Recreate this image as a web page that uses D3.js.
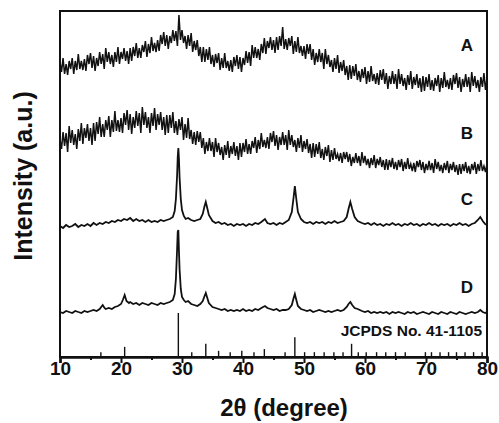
<!DOCTYPE html>
<html>
<head>
<meta charset="utf-8">
<script src="https://cdn.jsdelivr.net/npm/d3@7"></script>
<style>
  html, body { margin: 0; padding: 0; background: #fff; }
  svg { display: block; }
  text { font-family: "Liberation Sans", Arial, sans-serif; font-weight: bold; fill: #111; }
</style>
</head>
<body>
<svg id="chart" width="499" height="423"></svg>
<script>
// ---------------- DATA ----------------
const xTicks = [10, 20, 30, 40, 50, 60, 70, 80];
const xMinorTicks = [15, 25, 35, 45, 55, 65, 75];
const seriesLabels = ["A", "B", "C", "D"];
const refLabel = "JCPDS No. 41-1105";

// A and B sampled every 0.25 degree from 10 to 80
const angleAB = d3.range(10, 80.001, 0.25);
const seriesA = [
  295,285,299,283, 293,282,296,288, 299,283,296,287, 303,288,296,287, 298,286,302,293,
  304,289,301,286, 299,291,305,293, 303,288,309,295, 305,293,302,290, 305,295,310,293,
  305,298,309,296, 306,293,309,296, 310,301,314,299, 309,299,312,305, 316,300,313,304,
  320,306,314,305, 317,306,322,313, 325,311,322,308, 321,314,327,316, 326,311,342,317,
  327,314,321,308, 322,311,324,305, 316,307,317,301, 310,295,310,295, 308,297,310,293,
  302,290,303,294, 304,287,299,289, 304,289,296,286, 297,285,300,291, 302,288,300,285,
  299,292,306,294, 305,291,312,299, 310,299,308,297, 313,304,319,303, 316,309,320,307,
  317,304,320,307, 321,311,330,308, 318,307,319,311, 321,303,316,305, 320,304,311,301,
  311,298,313,303, 313,297,308,292, 304,295,308,295, 304,288,308,293, 302,290,297,285,
  299,288,302,284, 295,286,297,282, 291,277,292,278, 291,281,293,277, 286,275,288,279,
  290,273,286,275, 291,276,283,273, 284,272,287,277, 288,273,284,268, 281,273,286,273,
  283,268,288,273, 283,271,279,267, 282,272,286,268, 280,272,283,269, 279,265,281,266,
  280,270,283,267, 277,266,279,271, 282,265,279,269, 285,270,277,268, 279,267,282,273,
  284,269,280,265, 278,270,283,270, 280,265,285,271, 281,269,277,265, 280,270,284,267,
  279
];
const seriesB = [
  218,208,225,211, 224,205,231,214, 227,212,223,208, 228,216,234,213, 229,219,233,216,
  229,212,234,216, 235,223,240,220, 233,220,237,227, 241,220,237,225, 246,226,237,225,
  239,224,244,232, 247,227,243,223, 240,229,246,231, 244,224,250,232, 245,229,240,224,
  244,231,249,227, 243,232,245,227, 240,222,242,224, 242,229,245,224, 236,222,238,227,
  240,217,233,219, 239,218,227,213, 225,212,226,215, 225,209,219,203, 215,206,219,206,
  215,200,219,205, 214,202,210,197, 212,202,216,199, 211,203,215,201, 211,197,214,200,
  214,205,218,203, 213,203,216,209, 220,204,217,208, 224,210,217,209, 220,208,224,215,
  226,211,222,207, 220,212,225,212, 222,207,227,212, 222,210,217,205, 219,209,222,205,
  216,208,218,204, 213,199,214,200, 213,203,215,199, 208,197,210,201, 212,195,207,197,
  209,198,203,196, 204,194,205,198, 205,195,203,191, 200,194,204,194, 201,191,205,194,
  201,192,198,189, 199,192,202,189, 198,192,200,190, 197,187,198,187, 197,190,199,188,
  195,187,197,190, 198,186,195,188, 199,188,193,186, 194,185,196,190, 197,187,195,184,
  193,187,196,187, 194,184,198,188, 195,186,192,184, 194,187,196,184, 193,187,195,185,
  192,182,193,183, 193,186,195,184, 191,183,193,187, 195,183,193,186, 197,186,191,185,
  193
];
// C and D: [2theta, intensity]
const seriesC = [
  [10,131],[10.5,129],[11,132],[11.5,130],[12,131],[12.5,133],[13,130],[13.5,132],[14,131],[14.5,133],
  [15,131],[15.5,134],[16,132],[16.5,134],[17,133],[17.5,135],[18,134],[18.5,136],[19,135],[19.5,137],
  [20,136],[20.5,138],[21,137],[21.5,139],[22,136],[22.5,138],[23,136],[23.5,137],[24,135],[24.5,137],
  [25,135],[25.5,136],[26,135],[26.5,137],[27,136],[27.5,137],[28,138],[28.5,140],[28.8,146],[29.0,158],
  [29.2,182],[29.3,200],[29.4,209],[29.5,198],[29.6,180],[29.8,158],[30.0,147],[30.3,141],[30.6,138],[31,139],
  [31.5,137],[32,136],[32.5,137],[33,138],[33.4,143],[33.7,151],[33.9,155],[34.1,150],[34.4,142],[35,136],
  [35.5,134],[36,135],[36.5,133],[37,134],[37.5,132],[38,133],[38.5,131],[39,133],[39.5,132],[40,133],
  [40.5,131],[41,133],[41.5,132],[42,134],[42.5,133],[43,135],[43.6,138],[44,134],[44.5,133],[45,134],
  [45.5,132],[46,134],[46.5,133],[47,135],[47.5,137],[48,145],[48.3,160],[48.5,171],[48.7,160],[49,145],
  [49.5,138],[50,135],[50.5,134],[51,135],[51.5,133],[52,135],[52.5,134],[53,135],[53.5,133],[54,135],
  [54.5,134],[55,136],[55.5,134],[56,135],[56.5,136],[57,140],[57.3,148],[57.6,155],[57.9,148],[58.3,140],
  [58.8,136],[59.5,134],[60,133],[60.5,134],[61,132],[61.5,134],[62,132],[62.5,133],[63,131],[63.5,133],
  [64,132],[64.5,134],[65,132],[65.5,133],[66,131],[66.5,133],[67,132],[67.5,134],[68,132],[68.5,133],
  [69,131],[69.5,133],[70,132],[70.5,134],[71,132],[71.5,133],[72,131],[72.5,133],[73,132],[73.5,133],
  [74,131],[74.5,133],[75,132],[75.5,134],[76,132],[76.5,133],[77,131],[77.5,133],[78,134],[78.5,137],
  [78.9,140],[79.3,136],[79.7,133],[80,132]
];
const seriesD = [
  [10,45],[10.5,44],[11,46],[11.5,45],[12,44],[12.5,46],[13,45],[13.5,44],[14,46],[14.5,45],
  [15,46],[15.5,47],[16,46],[16.5,48],[17,52],[17.3,49],[17.5,48],[18,49],[18.5,48],[19,50],
  [19.5,51],[20,53],[20.3,57],[20.6,62],[20.9,56],[21.3,54],[21.5,55],[22,53],[22.5,54],[23,52],
  [23.5,54],[24,53],[24.5,52],[25,54],[25.5,53],[26,52],[26.5,54],[27,53],[27.5,54],[28,55],
  [28.5,57],[28.8,63],[29.0,78],[29.2,108],[29.3,125],[29.4,127],[29.5,106],[29.6,88],[29.8,68],[30.0,60],
  [30.3,57],[30.6,55],[31,56],[31.5,53],[32,52],[32.5,51],[33,53],[33.4,56],[33.7,61],[33.9,64],
  [34.1,60],[34.4,54],[35,50],[35.5,49],[36,48],[36.5,47],[37,48],[37.5,46],[38,47],[38.5,46],
  [39,47],[39.5,46],[40,48],[40.5,46],[41,47],[41.5,46],[42,48],[42.5,47],[43,49],[43.6,51],
  [44,49],[44.5,48],[45,47],[45.5,48],[46,46],[46.5,47],[47,47],[47.5,48],[48,52],[48.3,59],
  [48.5,63],[48.7,58],[49,51],[49.5,48],[50,47],[50.5,46],[51,47],[51.5,45],[52,46],[52.5,47],
  [53,46],[53.5,45],[54,46],[54.5,45],[55,46],[55.5,47],[56,46],[56.5,47],[57,50],[57.3,53],
  [57.6,55],[57.9,52],[58.3,49],[58.8,48],[59.5,46],[60,45],[60.5,46],[61,44],[61.5,45],[62,44],
  [62.5,45],[63,44],[63.5,45],[64,43],[64.5,45],[65,44],[65.5,45],[66,44],[66.5,43],[67,45],
  [67.5,44],[68,45],[68.5,43],[69,44],[69.5,45],[70,44],[70.5,43],[71,45],[71.5,44],[72,43],
  [72.5,45],[73,44],[73.5,43],[74,45],[74.5,44],[75,43],[75.5,45],[76,44],[76.5,43],[77,44],
  [77.5,45],[78,44],[78.5,45],[78.9,47],[79.3,45],[79.7,44],[80,45]
];
// JCPDS 41-1105 reference sticks: [2theta, relative intensity %]
const refSticks = [
  [16.7,11],[20.6,23],[29.4,100],[31.6,11],[33.9,30],[36.0,14],[37.9,11],[39.8,14],[41.8,11],
  [43.5,18],[46.9,11],[48.5,45],[50.1,11],[51.7,11],[53.3,11],[54.9,11],[56.4,11],[57.8,30],
  [58.9,11],[60.2,11],[61.9,11],[63.4,11],[65.0,11],[66.6,11],[69.9,11],[70.9,11],[72.3,11],
  [73.7,11],[75.0,11],[76.4,11],[77.8,11],[79.2,11]
];

// ---------------- LAYOUT ----------------
const L = 60, R = 487, T = 11, B = 357;
const svg = d3.select("#chart");
const x = d3.scaleLinear().domain([10, 80]).range([L, R]);
const y = d3.scaleLinear().domain([0, 346]).range([B, T]);
const yStick = d3.scaleLinear().domain([0, 100]).range([B, 313]);

svg.append("clipPath").attr("id", "plotclip")
  .append("rect").attr("x", L).attr("y", T).attr("width", R - L).attr("height", B - T);

const plot = svg.append("g").attr("clip-path", "url(#plotclip)");

const lineAB = d3.line().x((d, i) => x(angleAB[i])).y(d => y(d));
const lineCD = d3.line().x(d => x(d[0])).y(d => y(d[1]));

plot.append("path").datum(seriesA).attr("d", lineAB)
  .attr("fill", "none").attr("stroke", "#111").attr("stroke-width", 1.5);
plot.append("path").datum(seriesB).attr("d", lineAB)
  .attr("fill", "none").attr("stroke", "#111").attr("stroke-width", 1.5);
plot.append("path").datum(seriesC).attr("d", lineCD)
  .attr("fill", "none").attr("stroke", "#111").attr("stroke-width", 1.8);
plot.append("path").datum(seriesD).attr("d", lineCD)
  .attr("fill", "none").attr("stroke", "#111").attr("stroke-width", 1.8);

plot.selectAll("line.stick").data(refSticks).enter().append("line")
  .attr("class", "stick")
  .attr("x1", d => x(d[0])).attr("x2", d => x(d[0]))
  .attr("y1", yStick(0)).attr("y2", d => yStick(d[1]))
  .attr("stroke", "#111").attr("stroke-width", 1.4);

// frame
svg.append("rect").attr("x", L).attr("y", T).attr("width", R - L).attr("height", B - T)
  .attr("fill", "none").attr("stroke", "#111").attr("stroke-width", 2);

// x axis
const gx = svg.append("g").attr("transform", `translate(0,${B})`)
  .call(d3.axisBottom(x).tickValues(xTicks).tickSize(6).tickFormat(d3.format("d")));
gx.select(".domain").attr("stroke", "#111").attr("stroke-width", 2.5);
gx.selectAll(".tick line").attr("stroke", "#111").attr("stroke-width", 2);
gx.selectAll(".tick text").attr("y", 5).attr("dy", "0.71em")
  .style("font-family", '"Liberation Sans", Arial, sans-serif')
  .style("font-weight", "bold").style("font-size", "19px").attr("fill", "#111");

const gxm = svg.append("g").attr("transform", `translate(0,${B})`)
  .call(d3.axisBottom(x).tickValues(xMinorTicks).tickSize(3).tickFormat(""));
gxm.select(".domain").remove();
gxm.selectAll(".tick line").attr("stroke", "#111").attr("stroke-width", 2);

// series labels
const labelY = [51, 139, 205, 293];
svg.selectAll("text.slabel").data(seriesLabels).enter().append("text")
  .attr("class", "slabel")
  .attr("x", 467).attr("y", (d, i) => labelY[i])
  .attr("text-anchor", "middle").style("font-size", "17px").text(d => d);

svg.append("text").attr("x", 482).attr("y", 336).attr("text-anchor", "end")
  .style("font-size", "15.5px").text(refLabel);

// axis titles
svg.append("text").attr("x", 284).attr("y", 416).attr("text-anchor", "middle")
  .style("font-size", "24px").text("2θ (degree)");
svg.append("text").attr("transform", "translate(32,176) rotate(-90)")
  .attr("text-anchor", "middle").style("font-size", "25px").text("Intensity (a.u.)");
</script>
</body>
</html>
